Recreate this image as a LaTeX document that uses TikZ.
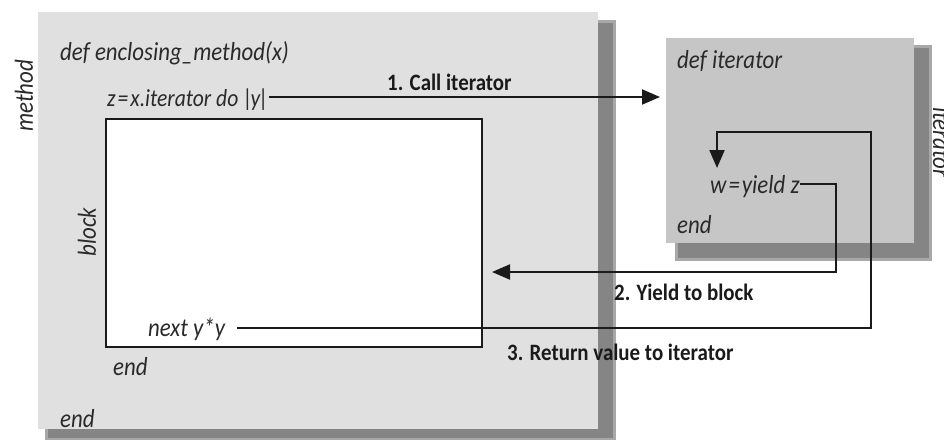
\documentclass[tikz,border=0pt]{standalone}
\usepackage{fontspec}
\setmainfont{Carlito}
\newfontfamily\codefont[FakeStretch=0.88]{Carlito}
\newfontfamily\lblfont[FakeStretch=0.89]{Carlito}
\usetikzlibrary{arrows.meta}
\definecolor{outerfill}{HTML}{E0E0E0}
\definecolor{iterfill}{HTML}{C6C6C6}
\definecolor{shade}{HTML}{858585}
\definecolor{shadesoft}{HTML}{A8A8A8}
\definecolor{txt}{HTML}{2A2A2A}
\definecolor{ln}{HTML}{1A1A1A}
\tikzset{
  code/.style={font=\codefont\fontsize{26}{26}\selectfont\itshape, text=txt, inner sep=0pt, anchor=base west},
  lbl/.style={font=\lblfont\fontsize{23.5}{24}\selectfont\bfseries, text=ln, inner sep=0pt, anchor=base west},
  side/.style={font=\codefont\fontsize{26}{26}\selectfont\itshape, text=txt, inner sep=0pt},
  flow/.style={line width=2pt, draw=ln},
  arr/.style={flow, -{Triangle[length=18pt,width=15pt]}},
  boxshadow/.style={fill=shade, draw=none},
  softshadow/.style={fill=shadesoft, draw=none},
}
\begin{document}
\begin{tikzpicture}[x=1pt,y=-1pt]
\useasboundingbox (0,0) rectangle (944,439);
\clip (0,0) rectangle (944,439);
\fill[white] (0,0) rectangle (944,439);
% outer method box with shadow
\fill[softshadow] (45,20) rectangle (616,440);
\fill[boxshadow] (48,23) rectangle (613,438);
\node[draw=none, fill=outerfill, minimum width=560pt, minimum height=417pt, anchor=north west, inner sep=0pt] (method) at (38,12) {};
% iterator box with shadow
\fill[softshadow] (675,45) rectangle (932,261);
\fill[boxshadow] (678,48) rectangle (929,258);
\node[draw=none, fill=iterfill, minimum width=248pt, minimum height=205pt, anchor=north west, inner sep=0pt] (iterbox) at (666,38) {};
% block
\node[draw=ln, line width=2pt, fill=white, minimum width=376pt, minimum height=228pt, anchor=north west, inner sep=0pt] (block) at (105,118) {};
% side labels
\node[side, rotate=90] (methodlbl) at (24,96) {method};
\node[side, rotate=90] (blocklbl) at (87,232) {block};
\node[side, rotate=-90, anchor=base west] (iterlbl) at (933,107) {iterator};
% code texts
\node[code] (defenc) at (60,60) {def enclosing\_method(x)};
\node[code] (zline) at (107,106) {\fontsize{24.5}{25}\selectfont z\kern2pt=\kern2pt x.iterator do |\kern-2.5pt y\kern-1.5pt|};
\node[code] (defit) at (677,68) {def iterator};
\node[code] (wline) at (710,193) {w\kern2pt=\kern2pt yield z};
\node[code] (endit) at (677,233) {end};
\node[code] (nextl) at (148,336) {next y*y};
\node[code] (endin) at (113,375) {end};
\node[code] (endout) at (60,427) {end};
% flow labels
\node[lbl] (l1) at (387,90) {1. Call iterator};
\node[lbl] (l2) at (614,300) {2. Yield to block};
\node[lbl] (l3) at (507,360) {3. Return value to iterator};
% connectors
\coordinate (c1) at (zline.east |- 0,97);
\draw[arr, shorten >=6pt] (c1) -- (c1 -| iterbox.west);
\coordinate (c2) at (wline.east |- 0,184);
\draw[arr, shorten >=9pt] (c2) -- (836,184) -- (836,272) -- (block.east |- 0,272);
\coordinate (c3) at ([xshift=12pt]nextl.east |- 0,328);
\draw[arr] (c3) -- (871,328) -- (871,132) -- (717,132) -- (717,168);
\end{tikzpicture}
\end{document}
